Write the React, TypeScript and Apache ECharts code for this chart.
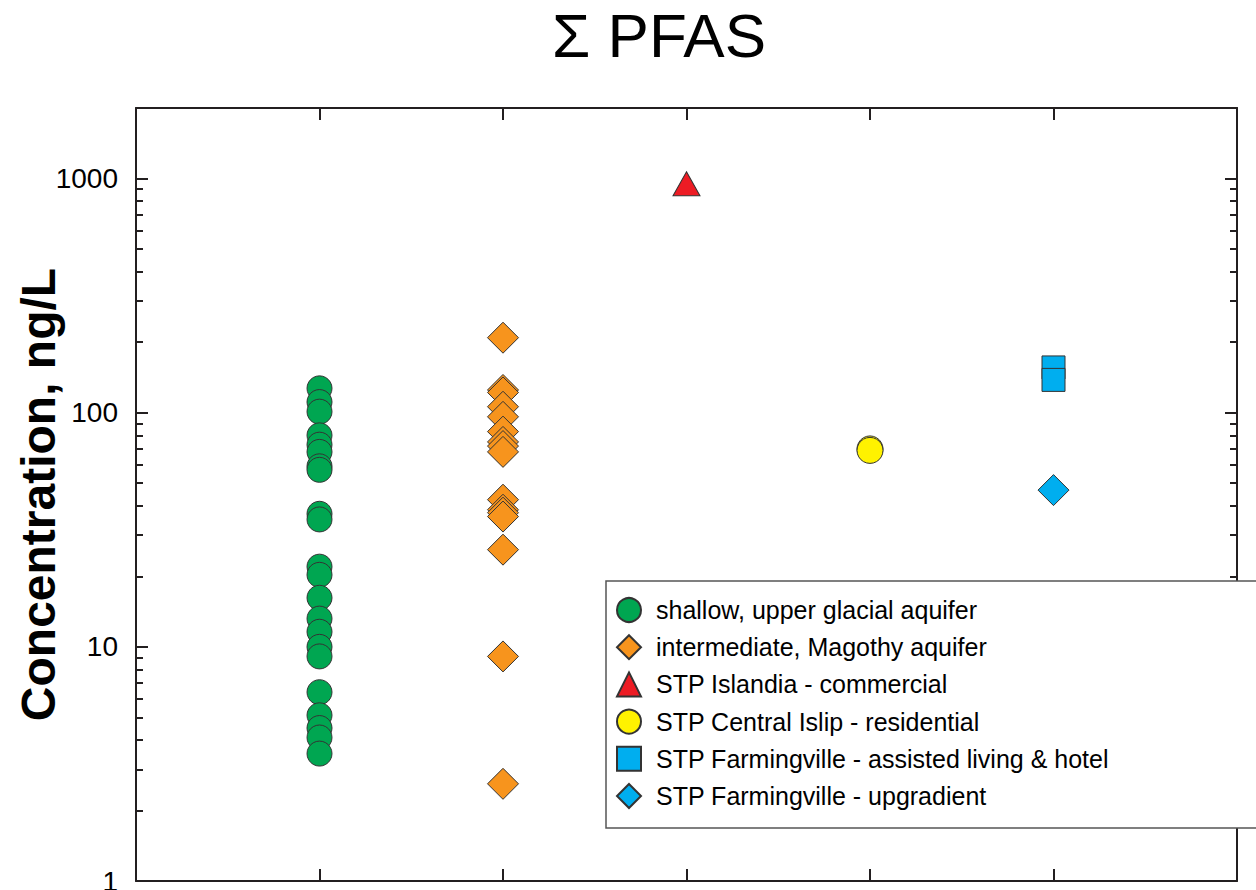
import React, { useEffect, useRef } from "react";
import * as echarts from "echarts";

const title = "Σ PFAS";
const yAxisName = "Concentration, ng/L";

const seriesNames = [
  "shallow, upper glacial aquifer",
  "intermediate, Magothy aquifer",
  "STP Islandia - commercial",
  "STP Central Islip - residential",
  "STP Farmingville - assisted living & hotel",
  "STP Farmingville - upgradient",
];

// x position (column) of each series
const seriesColumn = [1, 2, 3, 4, 5, 5];

const shallowValues = [127, 111, 101, 80, 73, 68, 59, 57, 37, 35, 22, 20.3, 16.2, 13.2, 11.6, 10, 9.1, 6.4, 5.1, 4.5, 4.1, 3.5];
const magothyValues = [209, 125, 122, 106, 96, 83, 75, 72, 68, 42.5, 38.5, 37.4, 36, 26, 9.1, 2.6];
const islandiaValues = [950];
const centralIslipValues = [70, 69];
const farmingvilleHotelValues = [156, 138];
const farmingvilleUpgradientValues = [46.7];

const allValues = [
  shallowValues,
  magothyValues,
  islandiaValues,
  centralIslipValues,
  farmingvilleHotelValues,
  farmingvilleUpgradientValues,
];

const symbols = ["circle", "diamond", "triangle", "circle", "rect", "diamond"];
const symbolSizes: any[] = [25, [31, 31], [27, 24], 26, 23, [31, 31]];
const colors = ["#00A651", "#F7941D", "#ED1C24", "#FFF200", "#00AEEF", "#00AEEF"];

const majorTicks = [1, 10, 100, 1000];
const minorTicks = [
  2, 3, 4, 5, 6, 7, 8, 9,
  20, 30, 40, 50, 60, 70, 80, 90,
  200, 300, 400, 500, 600, 700, 800, 900,
];

const axisColor = "#231F20";

export default function App() {
  const ref = useRef<HTMLDivElement>(null);

  useEffect(() => {
    if (!ref.current) return;
    const chart = echarts.init(ref.current, undefined, { renderer: "svg" });

    const baseY = {
      type: "log",
      logBase: 10,
      min: 1,
      max: 2000,
      splitLine: { show: false },
      axisLabel: { show: false },
    };

    const series = seriesNames.map((name, i) => ({
      name,
      type: "scatter",
      xAxisIndex: 0,
      yAxisIndex: 0,
      symbol: symbols[i],
      symbolSize: symbolSizes[i],
      data: allValues[i].map((v) => [seriesColumn[i], v]),
      itemStyle: {
        color: colors[i],
        borderColor: "#333333",
        borderWidth: 1,
        opacity: 1,
      },
      z: 3,
    }));

    chart.setOption({
      animation: false,
      backgroundColor: "#ffffff",
      title: {
        text: title,
        left: 552,
        top: 4,
        padding: 0,
        textStyle: {
          fontFamily: "Liberation Sans, Arial, sans-serif",
          fontSize: 62,
          fontWeight: "normal",
          color: "#000000",
        },
      },
      grid: {
        left: 136,
        right: 19,
        top: 108,
        bottom: 9,
        containLabel: false,
        outerBoundsMode: "none",
      },
      xAxis: [
        {
          type: "value",
          position: "bottom",
          min: 0,
          max: 6,
          interval: 1,
          axisLine: { show: true, lineStyle: { color: axisColor, width: 2 } },
          axisTick: { show: true, inside: true, length: 12, lineStyle: { color: axisColor, width: 2 } },
          axisLabel: { show: false },
          splitLine: { show: false },
        },
        {
          type: "value",
          position: "top",
          min: 0,
          max: 6,
          interval: 1,
          axisLine: { show: true, lineStyle: { color: axisColor, width: 2 } },
          axisTick: { show: true, inside: true, length: 12, lineStyle: { color: axisColor, width: 2 } },
          axisLabel: { show: false },
          splitLine: { show: false },
        },
      ],
      yAxis: [
        {
          ...baseY,
          position: "left",
          name: yAxisName,
          nameLocation: "middle",
          nameGap: 74,
          nameMoveOverlap: false,
          nameTextStyle: {
            fontFamily: "Liberation Sans, Arial, sans-serif",
            fontSize: 48,
            fontWeight: "bold",
            color: "#000000",
          },
          axisLine: { show: true, lineStyle: { color: axisColor, width: 2 } },
          axisTick: { show: true, inside: true, length: 12, lineStyle: { color: axisColor, width: 2 }, customValues: majorTicks },
          axisLabel: {
            show: true,
            margin: 18,
            fontFamily: "Liberation Sans, Arial, sans-serif",
            fontSize: 28,
            color: "#000000",
            customValues: majorTicks,
            formatter: (v: number) => String(Math.round(v)),
          },
        },
        {
          ...baseY,
          position: "left",
          axisLine: { show: false },
          axisTick: { show: true, inside: true, length: 7, lineStyle: { color: axisColor, width: 2 }, customValues: minorTicks },
        },
        {
          ...baseY,
          position: "right",
          axisLine: { show: true, lineStyle: { color: axisColor, width: 2 } },
          axisTick: { show: true, inside: true, length: 12, lineStyle: { color: axisColor, width: 2 }, customValues: majorTicks },
        },
        {
          ...baseY,
          position: "right",
          axisLine: { show: false },
          axisTick: { show: true, inside: true, length: 7, lineStyle: { color: axisColor, width: 2 }, customValues: minorTicks },
        },
      ],
      legend: {
        data: seriesNames,
        orient: "vertical",
        left: 616,
        top: 597,
        padding: 0,
        itemWidth: 24,
        itemHeight: 24,
        itemGap: 11.2,
        z: 120,
        selectedMode: false,
        textStyle: {
          fontFamily: "Liberation Sans, Arial, sans-serif",
          fontSize: 25,
          color: "#000000",
          padding: [0, 0, 0, 10],
          lineHeight: 25,
        },
      },
      graphic: [
        {
          type: "rect",
          z: 100,
          shape: { x: 606, y: 581, width: 720, height: 247 },
          style: { fill: "#ffffff", stroke: "#555555", lineWidth: 1.5 },
        },
      ],
      series,
    });

    return () => chart.dispose();
  }, []);

  return (
    <div
      ref={ref}
      style={{ position: "absolute", left: 0, top: 0, width: 1256, height: 890 }}
    />
  );
}
